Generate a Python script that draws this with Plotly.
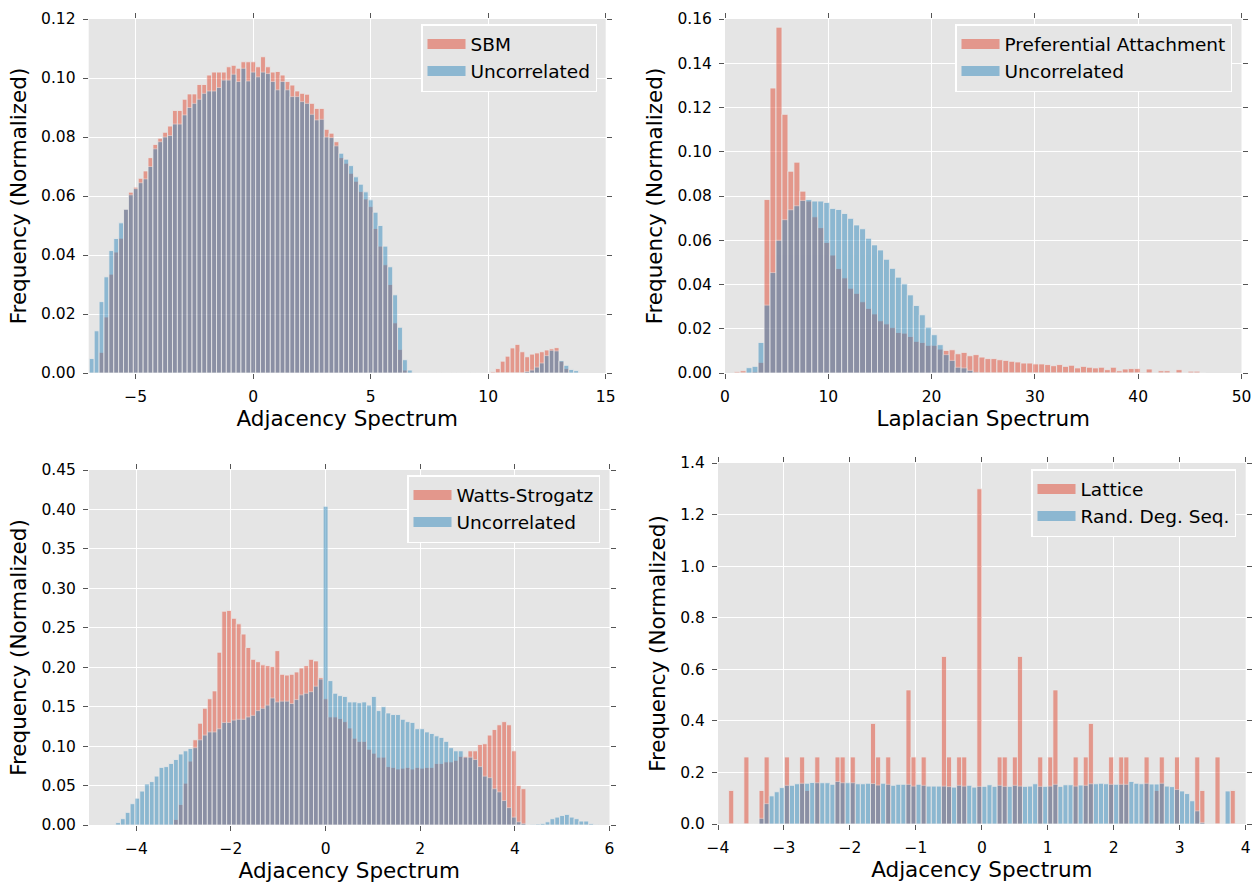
import numpy as np
import plotly.graph_objects as go

# ---------------- data (bin edges + normalized frequencies) ----------------
# Panel 1: Adjacency spectrum, SBM vs Uncorrelated (100 shared bins)
p1_bin_start = -6.974
p1_bin_width = 0.2082
p1_sbm = [
    0, 0, 0.0070, 0.0190, 0.0335, 0.0410, 0.0457, 0.0555, 0.0613, 0.0630,
    0.0660, 0.0685, 0.0730, 0.0775, 0.0796, 0.0816, 0.0837, 0.0890, 0.0890, 0.0928,
    0.0946, 0.0946, 0.0978, 0.0978, 0.1010, 0.1020, 0.1020, 0.1020, 0.1038, 0.1043,
    0.1033, 0.1055, 0.1055, 0.1055, 0.1038, 0.1072, 0.1038, 0.1020, 0.1022, 0.1010,
    0.0988, 0.0976, 0.0956, 0.0948, 0.0945, 0.0914, 0.0897, 0.0897, 0.0826, 0.0813,
    0.0784, 0.0730, 0.0711, 0.0677, 0.0650, 0.0615, 0.0590, 0.0564, 0.0490, 0.0430,
    0.0367, 0.0300, 0.0170, 0.0080, 0.0010, 0, 0, 0, 0, 0,
    0, 0, 0, 0, 0, 0, 0, 0, 0, 0,
    0, 0, 0.0004, 0.0015, 0.0040, 0.0057, 0.0085, 0.0097, 0.0072, 0.0055,
    0.0064, 0.0068, 0.0072, 0.0078, 0.0082, 0.0086, 0.0040, 0.0015, 0, 0,
]
p1_uncorr = [
    0.0049, 0.0143, 0.0242, 0.0326, 0.0415, 0.0456, 0.0509, 0.0555, 0.0604, 0.0625,
    0.0645, 0.0658, 0.0700, 0.0760, 0.0784, 0.0800, 0.0805, 0.0844, 0.0844, 0.0875,
    0.0900, 0.0914, 0.0928, 0.0948, 0.0956, 0.0956, 0.0968, 0.0993, 0.0993, 0.1013,
    0.0988, 0.1033, 0.0990, 0.1020, 0.1004, 0.1020, 0.1015, 0.0988, 0.0960, 0.0988,
    0.0960, 0.0937, 0.0937, 0.0920, 0.0914, 0.0877, 0.0858, 0.0860, 0.0800, 0.0798,
    0.0770, 0.0745, 0.0725, 0.0703, 0.0665, 0.0640, 0.0614, 0.0587, 0.0545, 0.0500,
    0.0430, 0.0360, 0.0265, 0.0155, 0.0045, 0.0010, 0, 0, 0, 0,
    0, 0, 0, 0, 0, 0, 0, 0, 0, 0,
    0, 0, 0, 0, 0, 0, 0, 0, 0, 0.0005,
    0.0010, 0.0020, 0.0034, 0.0059, 0.0077, 0.0075, 0.0042, 0.0026, 0.0012, 0.0008,
]

# Panel 2: Laplacian spectrum, Preferential Attachment vs Uncorrelated (79 shared bins)
p2_bin_start = 0.891
p2_bin_width = 0.578
p2_pa = [
    0.0006, 0.0010, 0, 0.0005, 0.0048, 0.0784, 0.1288, 0.1563, 0.1169, 0.0912,
    0.0953, 0.0822, 0.0777, 0.0706, 0.0657, 0.0590, 0.0533, 0.0472, 0.0430, 0.0383,
    0.0360, 0.0322, 0.0292, 0.0267, 0.0236, 0.0222, 0.0206, 0.0183, 0.0180, 0.0165,
    0.0143, 0.0138, 0.0125, 0.0125, 0.0108, 0.0102, 0.0105, 0.0087, 0.0093, 0.0078,
    0.0083, 0.0072, 0.0065, 0.0065, 0.0060, 0.0057, 0.0053, 0.0050, 0.0045, 0.0045,
    0.0041, 0.0041, 0.0038, 0.0033, 0.0038, 0.0030, 0.0035, 0.0023, 0.0030, 0.0026,
    0.0023, 0.0026, 0.0015, 0.0026, 0.0010, 0.0018, 0.0020, 0.0020, 0.0003, 0.0018,
    0, 0.0010, 0.0010, 0, 0.0015, 0, 0.0008, 0.0008, 0,
]
p2_uncorr = [
    0, 0, 0.0024, 0.0030, 0.0138, 0.0307, 0.0454, 0.0600, 0.0693, 0.0738,
    0.0756, 0.0780, 0.0784, 0.0777, 0.0777, 0.0771, 0.0744, 0.0739, 0.0721, 0.0699,
    0.0669, 0.0652, 0.0609, 0.0579, 0.0556, 0.0514, 0.0473, 0.0433, 0.0403, 0.0353,
    0.0305, 0.0263, 0.0207, 0.0173, 0.0128, 0.0083, 0.0057, 0.0026, 0.0023, 0.0012,
    0.0003, 0, 0, 0, 0, 0, 0, 0, 0, 0,
    0, 0, 0, 0, 0, 0, 0, 0, 0, 0,
    0, 0, 0, 0, 0, 0, 0, 0, 0, 0,
    0, 0, 0, 0, 0, 0, 0, 0, 0,
]

# Panel 3: Adjacency spectrum, Watts-Strogatz vs Uncorrelated (100 shared bins)
p3_bin_start = -4.437
p3_bin_width = 0.102
p3_ws = [
    0, 0, 0, 0, 0, 0, 0, 0, 0, 0,
    0, 0, 0.007, 0.026, 0.053, 0.081, 0.108, 0.129, 0.148, 0.160,
    0.170, 0.219, 0.271, 0.272, 0.262, 0.255, 0.242, 0.225, 0.210, 0.207,
    0.203, 0.202, 0.201, 0.221, 0.191, 0.190, 0.191, 0.194, 0.199, 0.202,
    0.210, 0.208, 0.187, 0.160, 0.137, 0.137, 0.135, 0.131, 0.123, 0.110,
    0.106, 0.106, 0.096, 0.091, 0.086, 0.086, 0.074, 0.073, 0.071, 0.072,
    0.073, 0.071, 0.073, 0.072, 0.073, 0.073, 0.078, 0.078, 0.080, 0.080,
    0.082, 0.087, 0.087, 0.094, 0.094, 0.102, 0.103, 0.114, 0.121, 0.127,
    0.131, 0.127, 0.094, 0.050, 0.046, 0, 0, 0, 0, 0,
    0, 0, 0, 0, 0, 0, 0, 0, 0, 0,
]
p3_uncorr = [
    0.003, 0.008, 0.016, 0.027, 0.034, 0.043, 0.052, 0.055, 0.062, 0.073,
    0.074, 0.078, 0.083, 0.090, 0.094, 0.097, 0.098, 0.108, 0.114, 0.118,
    0.118, 0.122, 0.130, 0.130, 0.133, 0.134, 0.134, 0.137, 0.139, 0.145,
    0.148, 0.152, 0.161, 0.156, 0.157, 0.157, 0.154, 0.159, 0.165, 0.167,
    0.169, 0.176, 0.185, 0.404, 0.183, 0.167, 0.164, 0.163, 0.156, 0.156,
    0.155, 0.156, 0.152, 0.163, 0.145, 0.150, 0.142, 0.140, 0.140, 0.134,
    0.131, 0.130, 0.122, 0.122, 0.118, 0.116, 0.113, 0.111, 0.106, 0.098,
    0.094, 0.094, 0.086, 0.086, 0.083, 0.074, 0.062, 0.060, 0.046, 0.042,
    0.031, 0.022, 0.010, 0.004, 0.002, 0, 0.0008, 0.0012, 0.002, 0.004,
    0.008, 0.010, 0.012, 0.0134, 0.010, 0.008, 0.005, 0.005, 0.0017, 0.0005,
]

# Panel 4: Adjacency spectrum, Lattice vs Random degree sequence (100 shared bins)
p4_bin_start = -3.8384
p4_bin_width = 0.0768
p4_lattice = [
    0.13, 0, 0, 0.26, 0, 0, 0.13, 0.26, 0, 0,
    0, 0.26, 0, 0, 0.26, 0.13, 0, 0.26, 0, 0,
    0, 0.26, 0.26, 0, 0.26, 0, 0, 0, 0.39, 0.26,
    0, 0.26, 0, 0, 0, 0.52, 0.26, 0, 0.26, 0,
    0, 0, 0.65, 0.26, 0, 0.26, 0.26, 0, 0, 1.30,
    0, 0, 0, 0.26, 0.26, 0, 0.26, 0.65, 0, 0,
    0, 0.26, 0, 0.26, 0.52, 0, 0, 0, 0.26, 0,
    0.26, 0.39, 0, 0, 0, 0.26, 0, 0.26, 0.26, 0,
    0, 0, 0.26, 0, 0.13, 0.26, 0, 0, 0.26, 0,
    0, 0, 0.26, 0.13, 0, 0, 0.26, 0, 0, 0.13,
]
p4_rds = [
    0, 0, 0, 0, 0, 0, 0.022, 0.079, 0.109, 0.125,
    0.141, 0.150, 0.150, 0.156, 0.158, 0.158, 0.161, 0.160, 0.160, 0.160,
    0.154, 0.165, 0.160, 0.160, 0.160, 0.156, 0.156, 0.158, 0.157, 0.151,
    0.158, 0.154, 0.150, 0.154, 0.154, 0.154, 0.147, 0.154, 0.150, 0.147,
    0.147, 0.147, 0.147, 0.145, 0.143, 0.150, 0.147, 0.150, 0.143, 0.146,
    0.146, 0.152, 0.146, 0.150, 0.146, 0.146, 0.150, 0.147, 0.146, 0.147,
    0.156, 0.146, 0.146, 0.147, 0.154, 0.146, 0.152, 0.152, 0.147, 0.151,
    0.150, 0.156, 0.156, 0.158, 0.156, 0.154, 0.154, 0.154, 0.154, 0.165,
    0.158, 0.156, 0.158, 0.155, 0.155, 0.158, 0.147, 0.145, 0.134, 0.128,
    0.118, 0.090, 0.051, 0.006, 0, 0, 0, 0, 0.128, 0,
]

# ---------------- styling ----------------
RED = "#E24A33"
BLUE = "#348ABD"
RED_LEG = "rgba(226,74,51,0.5)"
BLUE_LEG = "rgba(52,138,189,0.5)"
FONT = "DejaVu Sans"
AX_BG = "#E5E5E5"

panels = [
    dict(start=p1_bin_start, width=p1_bin_width, a=p1_sbm, b=p1_uncorr,
         na="SBM", nb="Uncorrelated", xlab="Adjacency Spectrum",
         xr=[-7, 15], dx=5, yr=[0, 0.12], dy=0.02, yfmt=".2f",
         xd=[88.7, 605.7], yd=[19, 373], leg=(597, 24)),
    dict(start=p2_bin_start, width=p2_bin_width, a=p2_pa, b=p2_uncorr,
         na="Preferential Attachment", nb="Uncorrelated", xlab="Laplacian Spectrum",
         xr=[0, 50], dx=10, yr=[0, 0.16], dy=0.02, yfmt=".2f",
         xd=[725, 1241.5], yd=[19, 373], leg=(1232, 24)),
    dict(start=p3_bin_start, width=p3_bin_width, a=p3_ws, b=p3_uncorr,
         na="Watts-Strogatz", nb="Uncorrelated", xlab="Adjacency Spectrum",
         xr=[-5, 6], dx=2, yr=[0, 0.45], dy=0.05, yfmt=".2f",
         xd=[89, 609.5], yd=[470, 825], leg=(600, 475)),
    dict(start=p4_bin_start, width=p4_bin_width, a=p4_lattice, b=p4_rds,
         na="Lattice", nb="Rand. Deg. Seq.", xlab="Adjacency Spectrum",
         xr=[-4, 4], dx=1, yr=[0, 1.4], dy=0.2, yfmt=".1f",
         xd=[718, 1245.7], yd=[463, 824], leg=(1236, 469)),
]

W, H = 1260, 886
fig = go.Figure()
layout = dict(
    width=W, height=H, margin=dict(l=0, r=0, t=0, b=0, autoexpand=False),
    paper_bgcolor="white", plot_bgcolor=AX_BG, barmode="overlay",
    font=dict(family=FONT, color="black"),
)

for i, p in enumerate(panels, start=1):
    sfx = "" if i == 1 else str(i)
    xa, ya = "x" + sfx, "y" + sfx
    n = len(p["a"])
    centers = p["start"] + p["width"] * (np.arange(n) + 0.5)
    for vals, col in ((p["a"], RED), (p["b"], BLUE)):
        fig.add_trace(go.Bar(
            x=centers, y=vals, width=p["width"], xaxis=xa, yaxis=ya,
            marker=dict(color=col, line=dict(color="#EEEEEE", width=0.8)),
            opacity=0.5, showlegend=False, hoverinfo="x+y",
        ))
    legname = "legend" + sfx
    for name, col in ((p["na"], RED_LEG), (p["nb"], BLUE_LEG)):
        fig.add_trace(go.Scatter(
            x=[None], y=[None], mode="lines", name=name, xaxis=xa, yaxis=ya,
            line=dict(color=col, width=12), legend=legname, showlegend=True,
        ))
    axis_common = dict(
        showgrid=True, gridcolor="white", gridwidth=1, zeroline=False,
        showline=False, ticks="outside", ticklen=5, tickwidth=1,
        tickcolor="#555555", mirror="ticks", automargin=False,
        tickfont=dict(family=FONT, size=15.5, color="black"),
        ticklabelstandoff=4,
    )
    layout["xaxis" + sfx] = dict(
        axis_common, domain=[p["xd"][0] / W, p["xd"][1] / W], anchor=ya,
        range=p["xr"], dtick=p["dx"], tick0=0,
        title=dict(text=p["xlab"], font=dict(family=FONT, size=21.5, color="black"),
                   standoff=6),
    )
    layout["yaxis" + sfx] = dict(
        axis_common, domain=[1 - p["yd"][1] / H, 1 - p["yd"][0] / H], anchor=xa,
        range=p["yr"], dtick=p["dy"], tick0=0, tickformat=p["yfmt"],
        title=dict(text="Frequency (Normalized)",
                   font=dict(family=FONT, size=21.5, color="black"), standoff=8),
    )
    layout[legname] = dict(
        x=p["leg"][0] / W, y=1 - p["leg"][1] / H, xanchor="right", yanchor="top",
        bgcolor=AX_BG, bordercolor="white", borderwidth=1.5,
        font=dict(family=FONT, size=18.5, color="black"), itemwidth=38,
    )

fig.update_layout(**layout)
fig.write_html("out.html")
